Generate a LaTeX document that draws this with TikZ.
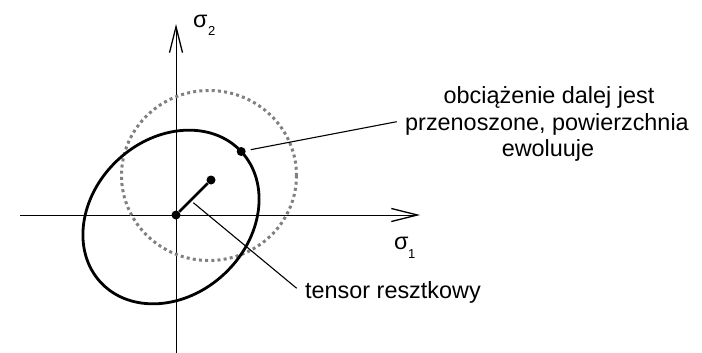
\documentclass[tikz,border=0pt]{standalone}
\usepackage{fontspec}
\setmainfont{Liberation Sans}
\usetikzlibrary{arrows.meta}
\begin{document}
\begin{tikzpicture}[x=1pt,y=-1pt,
  axis/.style={line width=1pt,-{Straight Barb[length=26pt,width=13pt,line width=1.3pt]}},
  dot/.style={circle,fill=black,inner sep=0pt,minimum size=9pt},
  thick line/.style={line width=2.8pt},
  dashed circle/.style={draw=black!50,line width=3pt,dash pattern=on 3pt off 3.2pt},
  leader/.style={line width=1.1pt},
  lbl/.style={inner sep=0pt,font=\fontsize{23.4}{27}\selectfont},
  sub/.style={inner sep=0pt,font=\fontsize{13}{13}\selectfont}]
\useasboundingbox (0,0) rectangle (702,353);
% axes
\coordinate (xs) at (20,215);
\coordinate (xe) at (420,215);
\coordinate (ys) at (176,353);
\coordinate (ye) at (176,24);
\draw[axis] (xs) -- (xe);
\draw[axis] (ys) -- (ye);
% dashed (shifted) surface
\coordinate (rc) at (209,175.5);
\draw[dashed circle] (rc) ellipse [x radius=87.5, y radius=85];
% solid (initial) surface
\coordinate (ec) at (171,217);
\draw[thick line] (ec) ellipse [x radius=96, y radius=78, rotate=43];
% points
\node[dot] (o) at (176,215) {};
\node[dot] (r) at (211,180) {};
\node[dot] (p) at (241.2,151.5) {};
\draw[thick line] (o) -- (r);
% labels
\node[lbl,anchor=base] (lab1) at (549,103) {obciążenie dalej jest};
\node[lbl,anchor=base] (lab2) at (547,130) {przenoszone, powierzchnia};
\node[lbl,anchor=base] (lab3) at (548,157) {ewoluuje};
\node[lbl,anchor=base west] (lab4) at (305,298) {tensor resztkowy};
\node[lbl,anchor=base west] (s2) at (193,27.5) {σ};
\node[sub,anchor=base west] (s2i) at (208,36) {2};
\node[lbl,anchor=base west] (s1) at (394,249.5) {σ};
\node[sub,anchor=base west] (s1i) at (408,258) {1};
% leaders
\coordinate (e1) at (396.7,121.7);
\coordinate (t1) at (193.3,202.7);
\coordinate (t2) at (296.7,288.3);
\draw[leader,shorten <=5pt] (p) -- (e1);
\draw[leader] (t1) -- (t2);
\end{tikzpicture}
\end{document}
